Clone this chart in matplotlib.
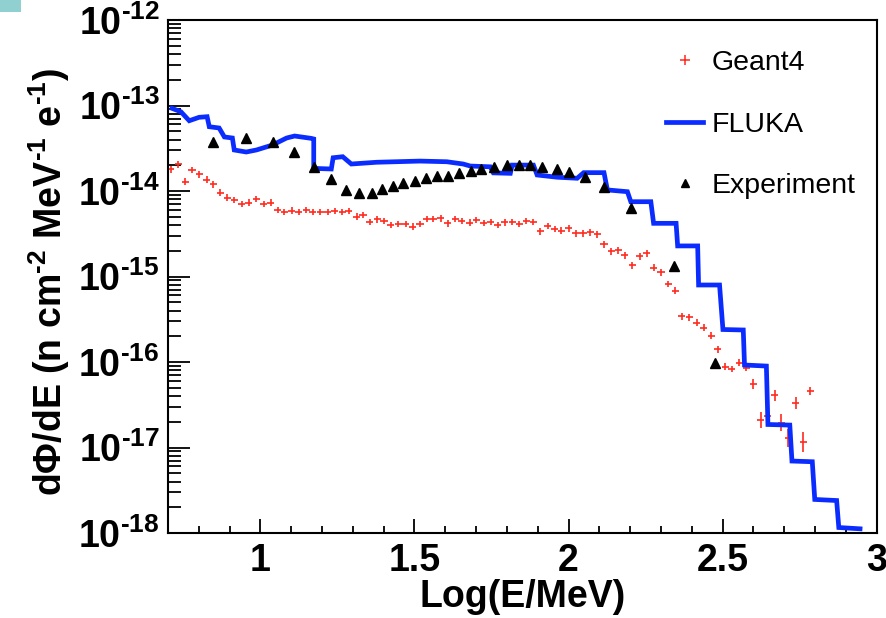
import numpy as np
import matplotlib
matplotlib.use('Agg')
from matplotlib import pyplot as plt
from matplotlib.lines import Line2D
from matplotlib.patches import Rectangle
from matplotlib.ticker import FixedLocator, FixedFormatter, LogLocator, NullFormatter

plt.rcParams['font.family'] = ['Liberation Sans', 'DejaVu Sans']
plt.rcParams['font.weight'] = 'bold'
plt.rcParams['mathtext.fontset'] = 'custom'
plt.rcParams['mathtext.rm'] = 'Liberation Sans:bold'
plt.rcParams['mathtext.default'] = 'regular'

# Geant4 (red crosses)
g4_x = [0.709, 0.734, 0.756, 0.778, 0.801, 0.826, 0.847, 0.870, 0.893, 0.915,
        0.940, 0.962, 0.986, 1.010, 1.033, 1.056, 1.078, 1.102, 1.125, 1.149,
        1.170, 1.194, 1.219, 1.241, 1.265, 1.287, 1.312, 1.333, 1.355, 1.379,
        1.401, 1.423, 1.447, 1.471, 1.494, 1.518, 1.540, 1.561, 1.585, 1.608,
        1.632, 1.654, 1.679, 1.700, 1.724, 1.748, 1.770, 1.793, 1.817, 1.840,
        1.863, 1.886, 1.908, 1.932, 1.955, 1.977, 2.001, 2.024, 2.048, 2.070,
        2.093, 2.115, 2.139, 2.162, 2.183, 2.207, 2.231, 2.254, 2.277, 2.300,
        2.323, 2.346, 2.368, 2.392, 2.416, 2.439, 2.463, 2.484, 2.508, 2.530,
        2.554, 2.577, 2.599, 2.623, 2.647, 2.669, 2.691, 2.713, 2.737, 2.761,
        2.784]
g4_y = [1.80e-14, 2.05e-14, 1.29e-14, 1.76e-14, 1.57e-14, 1.35e-14, 1.20e-14, 9.55e-15, 8.35e-15, 7.85e-15,
        7.05e-15, 7.30e-15, 8.05e-15, 7.05e-15, 7.30e-15, 6.00e-15, 5.68e-15, 5.89e-15, 5.68e-15, 6.00e-15,
        5.68e-15, 5.68e-15, 5.68e-15, 5.83e-15, 5.68e-15, 5.83e-15, 5.00e-15, 5.24e-15, 4.34e-15, 4.67e-15,
        4.46e-15, 4.00e-15, 4.11e-15, 4.11e-15, 3.82e-15, 4.11e-15, 4.71e-15, 4.71e-15, 4.80e-15, 4.19e-15,
        4.71e-15, 4.46e-15, 4.26e-15, 4.58e-15, 4.22e-15, 4.34e-15, 4.00e-15, 4.30e-15, 4.34e-15, 4.11e-15,
        4.46e-15, 4.34e-15, 3.40e-15, 3.90e-15, 3.60e-15, 3.43e-15, 3.66e-15, 3.20e-15, 3.20e-15, 3.30e-15,
        3.13e-15, 2.38e-15, 1.98e-15, 2.02e-15, 1.77e-15, 1.36e-15, 1.73e-15, 1.87e-15, 1.27e-15, 1.12e-15,
        8.17e-16, 6.82e-16, 3.41e-16, 3.33e-16, 2.88e-16, 2.52e-16, 2.04e-16, 1.41e-16, 8.81e-17, 8.28e-17,
        9.86e-17, 8.51e-17, 5.50e-17, 2.11e-17, 2.34e-17, 4.06e-17, 1.96e-17, 1.30e-17, 3.34e-17, 1.17e-17,
        4.54e-17]
# vertical error size (decades); the last points have larger errors
g4_err_default = 0.04
g4_err_tail = [0.06, 0.094, 0.03, 0.07, 0.094, 0.105, 0.07, 0.117, 0.047]
g4_halfbin = 0.0115

# FLUKA (blue line, vertices of the drawn curve)
fl_x = [0.713, 0.742, 0.769, 0.801, 0.827, 0.834, 0.866, 0.883, 0.909, 0.915,
        0.954, 0.987, 1.039, 1.085, 1.111, 1.165, 1.173, 1.173, 1.230, 1.236,
        1.267, 1.295, 1.377, 1.518, 1.605, 1.658, 1.681, 1.746, 1.756, 1.811,
        1.817, 1.886, 1.898, 1.963, 2.028, 2.049, 2.115, 2.126, 2.191, 2.202,
        2.267, 2.276, 2.349, 2.354, 2.419, 2.422, 2.490, 2.501, 2.567, 2.571,
        2.642, 2.647, 2.718, 2.725, 2.791, 2.799, 2.870, 2.877, 2.946]
fl_y = [9.27e-14, 8.45e-14, 6.64e-14, 7.28e-14, 7.40e-14, 5.65e-14, 5.46e-14, 4.29e-14, 4.17e-14, 3.02e-14,
        2.86e-14, 3.02e-14, 3.45e-14, 4.17e-14, 4.40e-14, 4.13e-14, 4.06e-14, 1.84e-14, 1.81e-14, 2.45e-14,
        2.52e-14, 2.07e-14, 2.17e-14, 2.24e-14, 2.20e-14, 2.07e-14, 1.96e-14, 1.92e-14, 1.63e-14, 1.61e-14,
        2.01e-14, 2.01e-14, 1.54e-14, 1.45e-14, 1.41e-14, 1.64e-14, 1.64e-14, 1.03e-14, 9.82e-15, 7.50e-15,
        7.50e-15, 4.19e-15, 4.19e-15, 2.28e-15, 2.28e-15, 7.96e-16, 7.96e-16, 2.40e-16, 2.37e-16, 9.23e-17,
        8.97e-17, 1.86e-17, 1.83e-17, 6.95e-18, 6.82e-18, 2.47e-18, 2.40e-18, 1.16e-18, 1.12e-18]

# Experiment (black triangles)
exp_x = [0.845, 0.954, 1.040, 1.108, 1.174, 1.228, 1.279, 1.320, 1.363, 1.396,
         1.431, 1.464, 1.502, 1.536, 1.574, 1.608, 1.644, 1.683, 1.717, 1.759,
         1.800, 1.838, 1.876, 1.914, 1.961, 2.003, 2.053, 2.114, 2.202, 2.343,
         2.476]
exp_y = [3.78e-14, 4.19e-14, 3.74e-14, 2.84e-14, 1.89e-14, 1.37e-14, 1.03e-14, 9.40e-15, 9.40e-15, 1.05e-14,
         1.14e-14, 1.23e-14, 1.32e-14, 1.41e-14, 1.51e-14, 1.51e-14, 1.63e-14, 1.73e-14, 1.80e-14, 1.89e-14,
         2.01e-14, 2.01e-14, 2.01e-14, 1.89e-14, 1.80e-14, 1.66e-14, 1.45e-14, 1.10e-14, 6.28e-15, 1.33e-15,
         9.73e-17]

xtick_vals = [1, 1.5, 2, 2.5, 3]
xtick_labels = ['1', '1.5', '2', '2.5', '3']
ytick_exps = [-18, -17, -16, -15, -14, -13, -12]

RED = '#ff2a1f'
BLUE = '#0a2cff'

fig = plt.figure(figsize=(8.86, 6.18), dpi=100)
fig.patches.append(Rectangle((0, 1 - 12 / 618), 21 / 886, 12 / 618, transform=fig.transFigure,
                             facecolor='#90d0d0', edgecolor='none'))
ax = fig.add_axes([0.1896, 0.1375, 0.7999, 0.8301])

# Geant4 with error bars
g4_x = np.array(g4_x)
g4_y = np.array(g4_y)
err_dex = np.full(len(g4_y), g4_err_default)
err_dex[-len(g4_err_tail):] = g4_err_tail
yerr = [g4_y * (1 - 10 ** -err_dex), g4_y * (10 ** err_dex - 1)]
ax.errorbar(g4_x, g4_y, xerr=g4_halfbin, yerr=yerr, fmt='none', ecolor=RED, elinewidth=1.2, capsize=0, zorder=2)

ax.plot(fl_x, fl_y, color=BLUE, lw=3.4, solid_joinstyle='miter', zorder=3)
ax.plot(exp_x, exp_y, ls='none', marker='^', color='black', markersize=7.3, zorder=4)

ax.set_yscale('log')
ax.set_xlim(0.7, 3.0)
ax.set_ylim(1e-18, 1e-12)

ax.xaxis.set_major_locator(FixedLocator(xtick_vals))
ax.xaxis.set_major_formatter(FixedFormatter(xtick_labels))
ax.xaxis.set_minor_locator(FixedLocator(np.arange(0.7, 3.001, 0.1)))
ax.yaxis.set_major_locator(FixedLocator([10.0 ** e for e in ytick_exps]))
ax.yaxis.set_major_formatter(FixedFormatter([r'$10^{\text{-}%d}$' % abs(e) for e in ytick_exps]))
ax.yaxis.set_minor_locator(LogLocator(base=10, subs=np.arange(2, 10)))
ax.yaxis.set_minor_formatter(NullFormatter())

ax.tick_params(axis='both', which='both', direction='in', top=False, right=False, width=1.3)
ax.tick_params(axis='y', which='major', length=16, pad=6, labelsize=27)
ax.tick_params(axis='y', which='minor', length=9)
ax.tick_params(axis='x', which='major', length=10, pad=7, labelsize=27)
ax.tick_params(axis='x', which='minor', length=5)
for s in ax.spines.values():
    s.set_linewidth(1.5)

ax.set_xlabel('Log(E/MeV)', fontsize=27, fontweight='bold', labelpad=0)
ax.set_ylabel('d\u03a6/dE (n cm$^{\\text{-}2}$ MeV$^{\\text{-}1}$ e$^{\\text{-}1}$)', fontsize=27, fontweight='bold')
ax.yaxis.set_label_coords(-0.136, 0.49)

handles = [Line2D([], [], ls='none', marker='+', color=RED, markersize=7, markeredgewidth=1.1),
           Line2D([], [], color=BLUE, lw=3.4),
           Line2D([], [], ls='none', marker='^', color='black', markersize=6)]
leg = ax.legend(handles, ['Geant4', 'FLUKA', 'Experiment'], loc='upper left',
                bbox_to_anchor=(0.7027, 0.9415), frameon=False, borderpad=0, borderaxespad=0,
                handlelength=1.3, handletextpad=0.32, labelspacing=1.25,
                prop={'family': 'Liberation Sans', 'weight': 'normal', 'size': 20.5})

fig.savefig('out.png', dpi=100)
